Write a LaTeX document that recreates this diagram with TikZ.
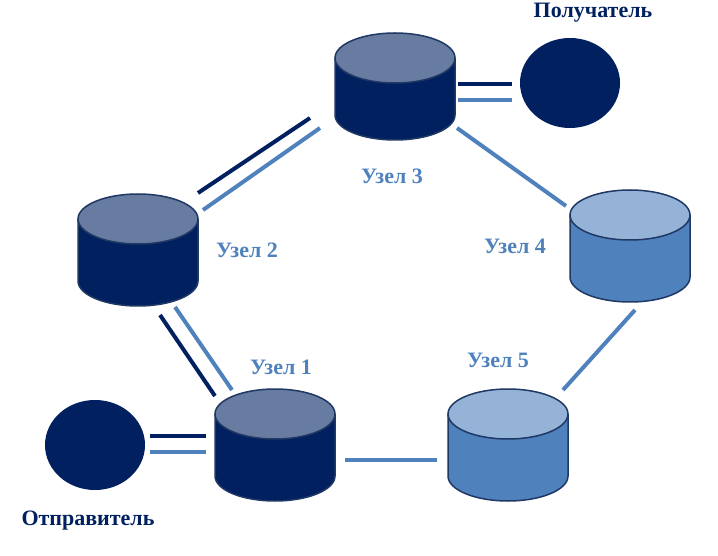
\documentclass[tikz,border=0pt]{standalone}
\usepackage{fontspec}
\setmainfont{Liberation Serif}
\begin{document}
\definecolor{navy}{HTML}{002060}
\definecolor{navytop}{HTML}{687BA0}
\definecolor{lblue}{HTML}{4F81BD}
\definecolor{ltop}{HTML}{95B3D7}
\definecolor{edge}{HTML}{1F3864}
\begin{tikzpicture}[x=1pt,y=-1pt,
  dk/.style={navy,line width=4pt},
  lt/.style={lblue,line width=4pt},
  lab/.style={font=\bfseries\fontsize{22}{26}\selectfont,text=lblue},
  lab2/.style={font=\bfseries\fontsize{22}{26}\selectfont,text=navy}]
\useasboundingbox (0,0) rectangle (718,556);
\newcommand{\mycyl}[5]{% cx, ytop, ybottom, body, top
  \fill[#4] (#1-60,#2+25) rectangle (#1+60,#3-25);
  \fill[#4] (#1,#3-25) ellipse[x radius=60pt,y radius=25pt];
  \draw[edge,line width=1.5pt] (#1-60,#2+25) -- (#1-60,#3-25) arc[start angle=180,end angle=360,x radius=60pt,y radius=25pt] -- (#1+60,#2+25);
  \filldraw[fill=#5,draw=edge,line width=1.5pt] (#1,#2+25) ellipse[x radius=60pt,y radius=25pt];}
\mycyl{395}{33}{140}{navy}{navytop}
\mycyl{138}{194}{306}{navy}{navytop}
\mycyl{275}{389}{501}{navy}{navytop}
\mycyl{508}{389}{501}{lblue}{ltop}
\mycyl{630}{190}{302}{lblue}{ltop}
\fill[navy] (570,83) ellipse[x radius=50pt,y radius=45pt];
\fill[navy] (95,445) ellipse[x radius=50pt,y radius=45pt];
\coordinate (a1) at (458,84); \coordinate (a2) at (512,84);
\coordinate (b1) at (458,100); \coordinate (b2) at (512,100);
\draw[dk] (a1) -- (a2); \draw[lt] (b1) -- (b2);
\coordinate (c1) at (198,193); \coordinate (c2) at (310,118);
\coordinate (d1) at (203,210); \coordinate (d2) at (320,128);
\draw[dk] (c1) -- (c2); \draw[lt] (d1) -- (d2);
\coordinate (e1) at (160,315); \coordinate (e2) at (215,396);
\coordinate (f1) at (175,307); \coordinate (f2) at (232,390);
\draw[dk] (e1) -- (e2); \draw[lt] (f1) -- (f2);
\coordinate (g1) at (150,436); \coordinate (g2) at (206,436);
\coordinate (h1) at (150,452); \coordinate (h2) at (206,452);
\draw[dk] (g1) -- (g2); \draw[lt] (h1) -- (h2);
\coordinate (i1) at (345,460); \coordinate (i2) at (437,460);
\draw[lt] (i1) -- (i2);
\coordinate (j1) at (563,390); \coordinate (j2) at (635,310);
\draw[lt] (j1) -- (j2);
\coordinate (k1) at (457,128); \coordinate (k2) at (566,206);
\draw[lt] (k1) -- (k2);
\node[lab] (n3) at (392,176) {Узел 3};
\node[lab] (n2) at (247,250) {Узел 2};
\node[lab] (n4) at (515,246) {Узел 4};
\node[lab] (n1) at (281,367) {Узел 1};
\node[lab] (n5) at (498,360) {Узел 5};
\node[lab2] (rc) at (593,13) {Получатель};
\node[lab2] (sd) at (88,521) {Отправитель};
\end{tikzpicture}
\end{document}
